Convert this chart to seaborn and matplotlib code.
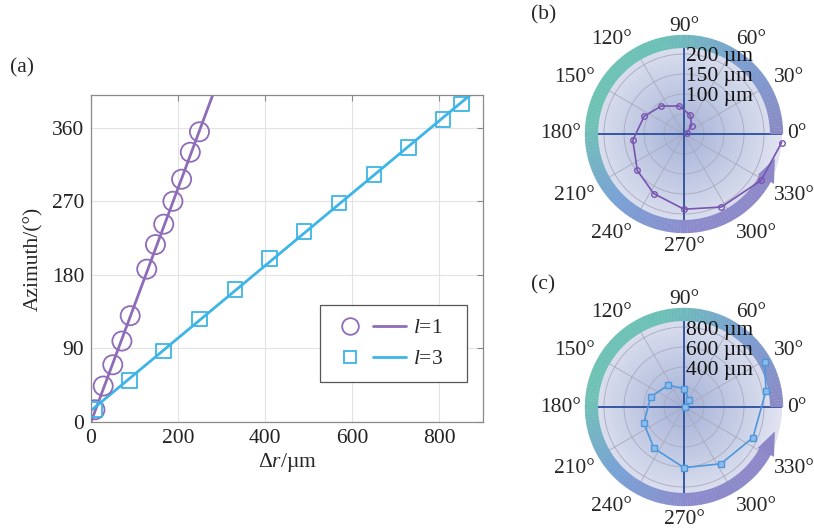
import numpy as np
import pandas as pd
import matplotlib
matplotlib.use("Agg")
import matplotlib.pyplot as plt
import matplotlib.transforms as mtransforms
import seaborn as sns
from matplotlib.lines import Line2D
from matplotlib.legend_handler import HandlerTuple
from matplotlib.colors import LinearSegmentedColormap

# (a) azimuth vs radial shift, measured points
l1_dr = [9, 28, 50, 71, 90, 128, 148, 167, 188, 208, 228, 249]
l1_az = [15, 44, 70, 99, 130, 187, 217, 242, 270, 297, 330, 355]
l3_dr = [9, 88, 167, 249, 331, 410, 489, 569, 650, 729, 808, 850]
l3_az = [15, 51, 87, 126, 162, 200, 233, 268, 303, 336, 370, 389]

# linear fits (end points)
l1_fit_dr = [0, 290]
l1_fit_az = [0, 415]
l3_fit_dr = [0, 900]
l3_fit_az = [14, 413]

# (b) polar trajectory, l=1
b_theta = [27, 47, 72, 100, 129, 156, 187, 218, 243, 270, 297, 329, 355]
b_r = [8, 28, 50, 71, 90, 109, 129, 148, 167, 188, 205, 225, 245]
b_rings = [50, 100, 150, 200]
b_rlabels = [100, 150, 200]

# (c) polar trajectory, l=3
c_theta = [15, 56, 89, 126, 163, 202, 234, 270, 303, 336, 371, 389]
c_r = [10, 89, 183, 270, 348, 434, 510, 607, 677, 754, 835, 922]
c_rings = [200, 400, 600, 800]
c_rlabels = [400, 600, 800]

angle_ticks = list(range(0, 360, 30))

C1 = "#8f6cb8"
C3 = "#3db5e6"

sns.set_style("white")
plt.rcParams["font.family"] = ["Liberation Serif", "DejaVu Serif"]
plt.rcParams["mathtext.fontset"] = "custom"
plt.rcParams["mathtext.rm"] = "Liberation Serif"
plt.rcParams["mathtext.it"] = "Liberation Serif:italic"

fig = plt.figure(figsize=(8.14, 5.29), dpi=100)

# ---------------- (a) ----------------
ax = fig.add_axes([91 / 814, 1 - 422 / 529, 392 / 814, 327 / 529])
df1 = pd.DataFrame({"dr": l1_dr, "az": l1_az})
df3 = pd.DataFrame({"dr": l3_dr, "az": l3_az})

sns.lineplot(x=l1_fit_dr, y=l1_fit_az, ax=ax, color=C1, lw=2, zorder=2)
sns.lineplot(x=l3_fit_dr, y=l3_fit_az, ax=ax, color=C3, lw=2, zorder=2)
sns.scatterplot(data=df1, x="dr", y="az", ax=ax, marker="o", s=190,
                color=C1, facecolor="none", edgecolor=C1, linewidth=1.3, zorder=3)
sns.scatterplot(data=df3, x="dr", y="az", ax=ax, marker="s", s=110,
                color=C3, facecolor="none", edgecolor=C3, linewidth=1.3, zorder=3)

ax.set_xlim(0, 900)
ax.set_ylim(0, 400)
ax.set_xticks([0, 200, 400, 600, 800])
ax.set_yticks([0, 90, 180, 270, 360])
ax.grid(True, color="#e3e3e3", lw=0.8)
ax.set_axisbelow(True)
for s in ax.spines.values():
    s.set_color("#8a8a8a")
    s.set_linewidth(0.9)
ax.tick_params(direction="in", length=4, color="#8a8a8a", labelsize=15.5,
               top=True, right=True, labelcolor="#222222", pad=5)
ax.set_xlabel("Δ$r$/µm", fontsize=15.5, labelpad=2)
ax.set_ylabel("Azimuth/(°)", fontsize=15.5, labelpad=6)

h1 = (Line2D([], [], ls="", marker="o", ms=12, mfc="none", mec=C1, mew=1.3),
      Line2D([], [], color=C1, lw=2))
h3 = (Line2D([], [], ls="", marker="s", ms=9, mfc="none", mec=C3, mew=1.3),
      Line2D([], [], color=C3, lw=2))
leg = ax.legend([h1, h3], ["$l$=1   ", "$l$=3   "],
                handler_map={tuple: HandlerTuple(ndivide=None, pad=0.3)},
                loc="lower right", bbox_to_anchor=(0.96, 0.122), fontsize=15.5,
                handlelength=3.4, fancybox=False, framealpha=1,
                edgecolor="#555555", borderpad=0.6, labelspacing=0.5,
                handletextpad=0.3, borderaxespad=0)
leg.get_frame().set_linewidth(0.9)
fig.text(10 / 814, 1 - 68 / 529, "(a)", fontsize=15.5, va="center")

# ---------------- polar panels ----------------
disk_cmap = LinearSegmentedColormap.from_list("disk", ["#a7b3d8", "#c3cbe4", "#e2e4f1"])
ring_cmap = LinearSegmentedColormap.from_list(
    "ring", [(0.0, "#8b8ac4"), (0.15, "#7c9fd2"), (0.3, "#6cc1b6"),
             (0.5, "#70c3b4"), (0.65, "#79a2d6"), (0.8, "#8d8bcc"), (1.0, "#8e88c6")])


def draw_polar(pax, theta, r, rmax, rings, rlabels, color, marker, mfc):
    tt = np.linspace(0, 2 * np.pi, 181)
    rr = np.linspace(0, rmax, 40)
    T, R = np.meshgrid(tt, rr)
    pax.pcolormesh(T, R, R / rmax, cmap=disk_cmap, shading="gouraud", zorder=-2)
    pax.set_ylim(0, rmax)
    pax.set_yticks(rings)
    pax.set_yticklabels([])
    pax.set_xticks(np.deg2rad(angle_ticks))
    pax.set_xticklabels([])
    pax.grid(True, color="#a7abbd", lw=0.6)
    pax.spines["polar"].set_visible(False)
    pax.set_facecolor("none")

    # angle labels: nearest corner sits just outside the ring
    for a in angle_ticks:
        c, s = np.cos(np.deg2rad(a)), np.sin(np.deg2rad(a))
        ha = "left" if c > 0.1 else ("right" if c < -0.1 else "center")
        va = "baseline" if s > 0.1 else ("top" if s < -0.1 else "center")
        pax.text(np.deg2rad(a), rmax * 1.055, f"{a}°", ha=ha, va=va,
                 fontsize=15.5, clip_on=False, zorder=6)

    for a in [0, 90, 180, 270]:
        pax.plot([np.deg2rad(a)] * 2, [0, rmax], color="#2d4f9e", lw=1.3, zorder=2)

    # ring with arrow, lying over the outer band of the disk
    step = 2.0
    centers = np.arange(step / 2, 332, step)
    cols = [ring_cmap(a / 345) for a in centers]
    pax.bar(np.deg2rad(centers), rmax * 0.135, width=np.deg2rad(step * 1.08),
            bottom=rmax * 0.877, color=cols, linewidth=0, clip_on=False, zorder=3)
    pax.fill(np.deg2rad([331, 331, 345]), [rmax * 0.86, rmax * 1.05, rmax * 0.96],
             color="#8c88c8", lw=0, clip_on=False, zorder=3)

    off = mtransforms.offset_copy(pax.transData, fig=fig, x=2, y=-3, units="dots")
    for rl in rlabels:
        pax.text(np.pi / 2, rl, f"{rl} µm", transform=off, ha="left",
                 va="center", fontsize=15.5, color="#111111", zorder=5)

    pax.plot(np.deg2rad(theta), r, color=color, lw=1.2, marker=marker, ms=4,
             mfc=mfc, mec=color, mew=1.0, clip_on=False, zorder=4)


R_PX = 98
axb = fig.add_axes([(684 - R_PX) / 814, 1 - (134 + R_PX) / 529,
                    2 * R_PX / 814, 2 * R_PX / 529], projection="polar")
draw_polar(axb, b_theta, b_r, 245, b_rings, b_rlabels, "#7855b0", "o", "none")
fig.text(531 / 814, 1 - 15 / 529, "(b)", fontsize=15.5, va="center")

axc = fig.add_axes([(684 - R_PX) / 814, 1 - (407 + R_PX) / 529,
                    2 * R_PX / 814, 2 * R_PX / 529], projection="polar")
draw_polar(axc, c_theta, c_r, 980, c_rings, c_rlabels, "#4d97dc", "s", "#8fbbe8")
fig.text(531 / 814, 1 - 285 / 529, "(c)", fontsize=15.5, va="center")

fig.savefig("out.png", dpi=100)
